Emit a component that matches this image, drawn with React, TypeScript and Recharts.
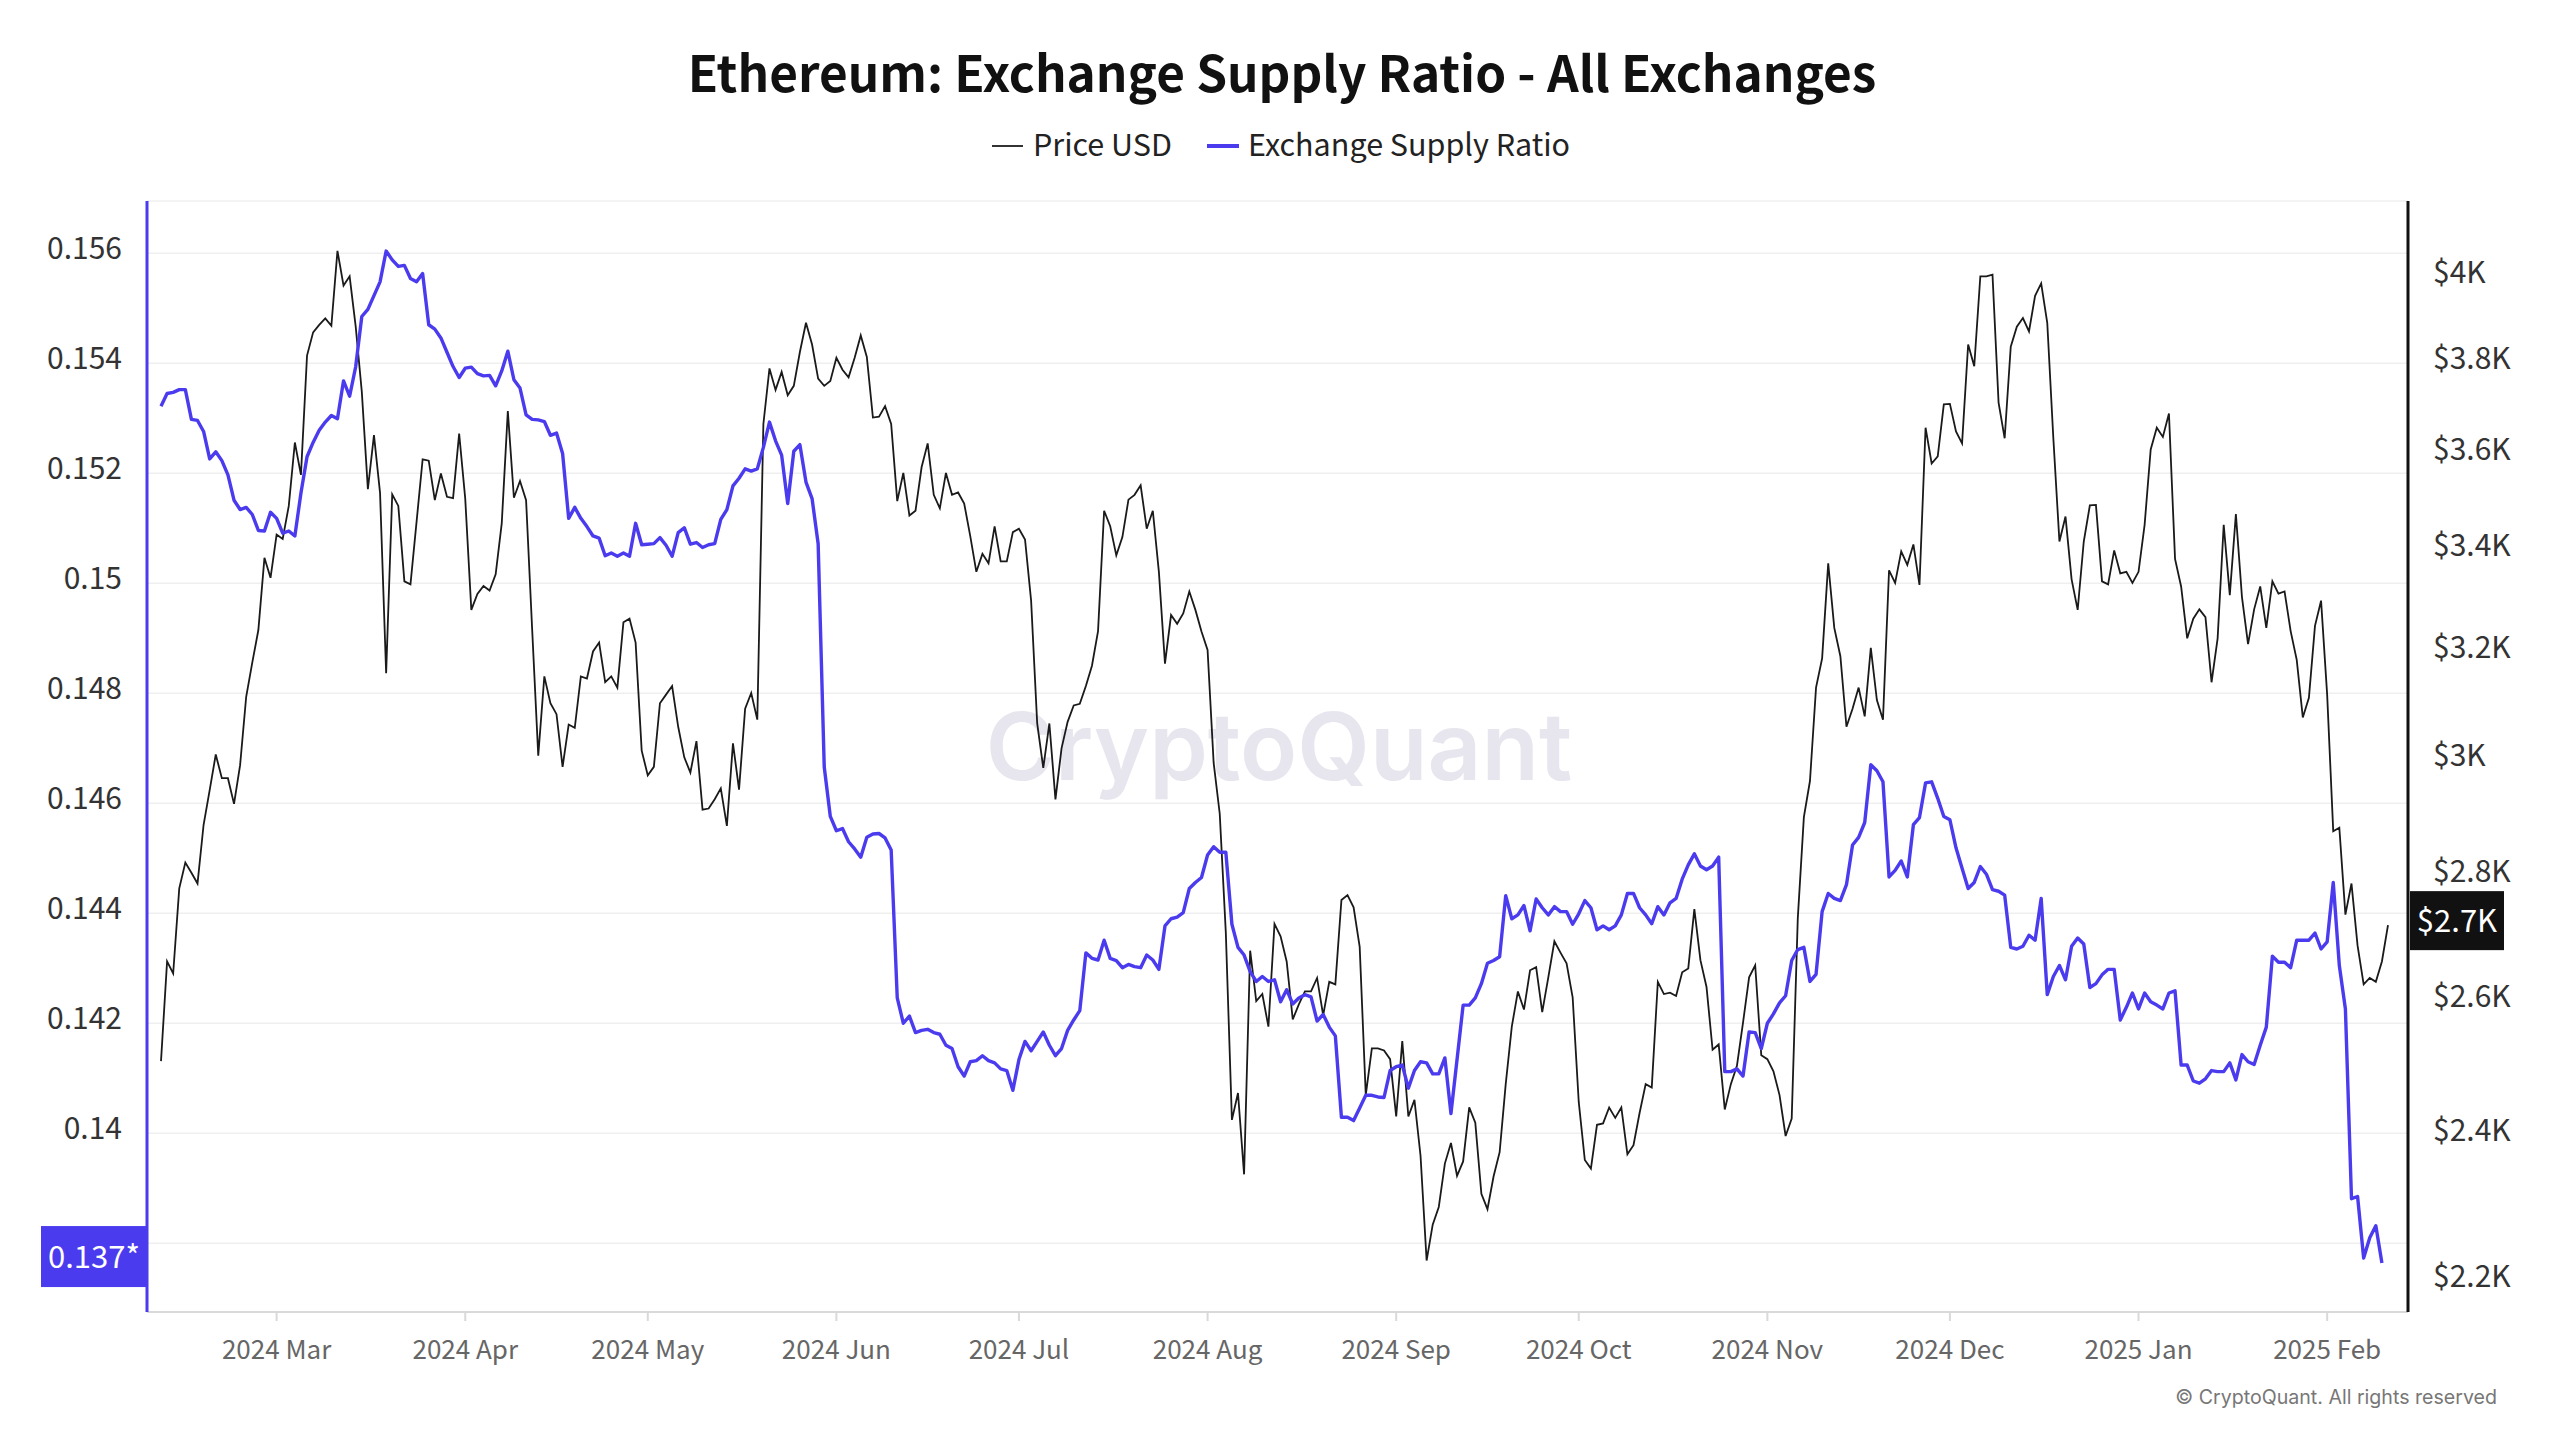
import React from "react";
import {
  LineChart,
  Line,
  XAxis,
  YAxis,
  CartesianGrid,
  ReferenceDot,
} from "recharts";

// daily series, first day below
const START_DATE = "2024-02-11";

const PRICE_USD = [
  2501, 2654, 2635, 2772, 2815, 2798, 2780, 2879, 2939, 3002,
  2960, 2960, 2915, 2983, 3107, 3171, 3233, 3375, 3335, 3422,
  3413, 3481, 3615, 3546, 3807, 3860, 3877, 3892, 3875, 4052,
  3969, 3991, 3873, 3726, 3516, 3631, 3508, 3151, 3505, 3481,
  3328, 3322, 3448, 3579, 3576, 3493, 3549, 3500, 3497, 3634,
  3496, 3272, 3303, 3319, 3310, 3342, 3445, 3683, 3498, 3533,
  3493, 3234, 3000, 3145, 3095, 3075, 2980, 3056, 3050, 3145,
  3141, 3192, 3209, 3134, 3145, 3124, 3248, 3255, 3209, 3009,
  2965, 2980, 3095, 3111, 3127, 3052, 2997, 2970, 3026, 2905,
  2907, 2923, 2942, 2877, 3022, 2940, 3085, 3114, 3065, 3655,
  3778, 3730, 3770, 3718, 3739, 3815, 3882, 3832, 3755, 3739,
  3750, 3802, 3775, 3758, 3802, 3853, 3804, 3669, 3671, 3694,
  3655, 3491, 3550, 3461, 3471, 3562, 3613, 3504, 3476, 3550,
  3504, 3509, 3486, 3419, 3347, 3383, 3364, 3439, 3368, 3368,
  3427, 3434, 3412, 3290, 3058, 2978, 3058, 2923, 3013, 3061,
  3091, 3094, 3127, 3165, 3231, 3471, 3439, 3380, 3417, 3494,
  3504, 3524, 3434, 3471, 3347, 3169, 3262, 3245, 3265, 3308,
  3272, 3230, 3195, 2987, 2898, 2700, 2415, 2454, 2338, 2671,
  2592, 2603, 2553, 2714, 2694, 2654, 2564, 2587, 2607, 2607,
  2628, 2570, 2622, 2618, 2753, 2761, 2741, 2677, 2451, 2520,
  2520, 2517, 2504, 2420, 2531, 2420, 2444, 2364, 2221, 2269,
  2293, 2353, 2382, 2336, 2356, 2433, 2411, 2311, 2290, 2335,
  2369, 2467, 2553, 2607, 2579, 2640, 2645, 2575, 2629, 2686,
  2668, 2651, 2598, 2441, 2358, 2346, 2408, 2410, 2433, 2418,
  2433, 2366, 2379, 2425, 2467, 2462, 2622, 2603, 2605, 2600,
  2637, 2643, 2738, 2656, 2614, 2518, 2526, 2430, 2467, 2494,
  2559, 2629, 2648, 2510, 2504, 2486, 2451, 2392, 2417, 2723,
  2892, 2955, 3124, 3179, 3364, 3237, 3183, 3052, 3085, 3124,
  3071, 3199, 3101, 3065, 3350, 3325, 3388, 3361, 3402, 3321,
  3647, 3570, 3585, 3698, 3699, 3639, 3613, 3832, 3783, 3991,
  3991, 3995, 3702, 3624, 3827, 3873, 3893, 3862, 3945, 3974,
  3882, 3624, 3408, 3459, 3332, 3272, 3408, 3482, 3483, 3328,
  3322, 3390, 3344, 3347, 3325, 3347, 3442, 3600, 3647, 3627,
  3678, 3373, 3318, 3217, 3255, 3273, 3258, 3134, 3217, 3442,
  3301, 3464, 3297, 3206, 3273, 3318, 3237, 3328, 3304, 3308,
  3231, 3176, 3069, 3105, 3241, 3290, 3111, 2868, 2874, 2729,
  2780, 2679, 2618, 2628, 2622, 2654, 2712,
];

const SUPPLY_RATIO = [
  0.15322, 0.15345, 0.15347, 0.15352, 0.15352, 0.15298, 0.15296, 0.15276, 0.15226, 0.15239,
  0.15223, 0.15197, 0.15151, 0.15134, 0.15138, 0.15125, 0.15096, 0.15095, 0.15129, 0.15118,
  0.15091, 0.15095, 0.15086, 0.15164, 0.1523, 0.15256, 0.15278, 0.15293, 0.15305, 0.15299,
  0.15368, 0.1534, 0.15394, 0.15485, 0.15498, 0.15523, 0.15548, 0.15604, 0.15588, 0.15576,
  0.15578, 0.15554, 0.15548, 0.15563, 0.1547, 0.15462, 0.15446, 0.1542, 0.15394, 0.15374,
  0.15391, 0.15393, 0.15381, 0.15377, 0.15378, 0.15359, 0.15386, 0.15422, 0.1537, 0.15355,
  0.15306, 0.15298, 0.15297, 0.15294, 0.15269, 0.15273, 0.15236, 0.15118, 0.15138, 0.15118,
  0.15103, 0.15086, 0.15082, 0.1505, 0.15055, 0.15049, 0.15055, 0.15049, 0.15109, 0.1507,
  0.15071, 0.15072, 0.15083, 0.15069, 0.15049, 0.15092, 0.15101, 0.15071, 0.15074, 0.15065,
  0.1507, 0.15072, 0.15116, 0.15134, 0.15177, 0.15191, 0.15208, 0.15204, 0.15208, 0.15247,
  0.15293, 0.15259, 0.15233, 0.15145, 0.1524, 0.15252, 0.15184, 0.15154, 0.15072, 0.14666,
  0.14576, 0.1455, 0.14554, 0.1453, 0.14517, 0.14502, 0.14538, 0.14544, 0.14545, 0.14537,
  0.14515, 0.14246, 0.142, 0.14213, 0.14183, 0.14187, 0.14189, 0.14183, 0.1418, 0.1416,
  0.14154, 0.14121, 0.14104, 0.1413, 0.14132, 0.14141, 0.14132, 0.14128, 0.14117, 0.14114,
  0.14078, 0.14134, 0.14167, 0.1415, 0.14167, 0.14184, 0.1416, 0.14141, 0.14154, 0.14187,
  0.14206, 0.14223, 0.14328, 0.14318, 0.14315, 0.14351, 0.14318, 0.14314, 0.14301, 0.14307,
  0.14303, 0.14301, 0.14324, 0.14315, 0.14298, 0.14377, 0.1439, 0.14393, 0.14401, 0.14445,
  0.14456, 0.14465, 0.14506, 0.14521, 0.14511, 0.14511, 0.1438, 0.14338, 0.14324, 0.14294,
  0.14276, 0.14285, 0.14276, 0.14279, 0.14239, 0.14261, 0.14235, 0.14246, 0.14252, 0.14248,
  0.14204, 0.14216, 0.14193, 0.14177, 0.14029, 0.14029, 0.14023, 0.14046, 0.14069, 0.14069,
  0.14066, 0.14065, 0.14114, 0.14121, 0.14124, 0.14082, 0.14114, 0.1413, 0.14128, 0.14108,
  0.14108, 0.14137, 0.14036, 0.14134, 0.14233, 0.14233, 0.14246, 0.14272, 0.14309, 0.14314,
  0.14321, 0.14432, 0.1439, 0.14397, 0.14414, 0.14368, 0.14426, 0.1441, 0.14397, 0.14412,
  0.14403, 0.14403, 0.1438, 0.14399, 0.14423, 0.1441, 0.1437, 0.14377, 0.1437, 0.14377,
  0.14397, 0.14436, 0.14436, 0.1441, 0.14397, 0.14381, 0.14412, 0.14397, 0.14419, 0.14427,
  0.14462, 0.14488, 0.14508, 0.14486, 0.14479, 0.14486, 0.14502, 0.14112, 0.14112, 0.14117,
  0.14104, 0.14184, 0.14183, 0.14154, 0.142, 0.14217, 0.14237, 0.1425, 0.14314, 0.14334,
  0.14338, 0.14276, 0.14289, 0.14403, 0.14436, 0.14427, 0.14423, 0.14452, 0.14524, 0.14538,
  0.14565, 0.1467, 0.14659, 0.14639, 0.14466, 0.14478, 0.14495, 0.14466, 0.14561, 0.14574,
  0.14637, 0.14639, 0.14609, 0.14576, 0.1457, 0.14519, 0.14482, 0.14445, 0.14456, 0.14485,
  0.14471, 0.14443, 0.1444, 0.14433, 0.14338, 0.14335, 0.1434, 0.1436, 0.14351, 0.14427,
  0.14252, 0.14285, 0.14305, 0.14279, 0.1434, 0.14355, 0.14344, 0.14265, 0.14272, 0.14288,
  0.14298, 0.14298, 0.14206, 0.14229, 0.14255, 0.14226, 0.14255, 0.14239, 0.14233, 0.14226,
  0.14255, 0.14259, 0.14124, 0.14124, 0.14095, 0.14091, 0.14099, 0.14114, 0.14112, 0.14112,
  0.14128, 0.14097, 0.14143, 0.1413, 0.14125, 0.1416, 0.14193, 0.14322, 0.14311, 0.14311,
  0.14301, 0.14351, 0.14351, 0.14351, 0.14364, 0.14335, 0.14348, 0.14456, 0.14305, 0.14226,
  0.13881, 0.13885, 0.13773, 0.1381, 0.13832, 0.13764,
];

const MONTH_STARTS = [
  "2024-03-01", "2024-04-01", "2024-05-01", "2024-06-01", "2024-07-01", "2024-08-01",
  "2024-09-01", "2024-10-01", "2024-11-01", "2024-12-01", "2025-01-01", "2025-02-01",
];
const MONTH_LABELS = [
  "2024 Mar", "2024 Apr", "2024 May", "2024 Jun", "2024 Jul", "2024 Aug",
  "2024 Sep", "2024 Oct", "2024 Nov", "2024 Dec", "2025 Jan", "2025 Feb",
];

const RATIO_TICKS = [0.138, 0.14, 0.142, 0.144, 0.146, 0.148, 0.15, 0.152, 0.154, 0.156];
const PRICE_TICKS = [2200, 2400, 2600, 2800, 3000, 3200, 3400, 3600, 3800, 4000];

const BLUE = "#4b3bef";
const FONT = '"Noto Sans CJK KR", "Noto Sans", sans-serif';
const DAY = 86400000;

const t0 = Date.parse(START_DATE + "T00:00:00Z");
const rows = PRICE_USD.map((price, i) => ({
  t: t0 + i * DAY,
  price,
  ratio: i < SUPPLY_RATIO.length ? SUPPLY_RATIO[i] : null,
}));
const monthTicks = MONTH_STARTS.map((d) => Date.parse(d + "T00:00:00Z"));

const lastRatioIdx = SUPPLY_RATIO.length - 1;
const lastPriceIdx = PRICE_USD.length - 1;

const fmtRatio = (v: number) => (v === 0.138 ? "" : String(+v.toFixed(3)));
const fmtPrice = (v: number) => `$${+(v / 1000).toFixed(1)}K`;
const fmtMonth = (v: number) => MONTH_LABELS[monthTicks.indexOf(v)] ?? "";

// left labels sit a few px above their grid lines in the original
const RatioTick = (props: any) => {
  const { x, y, payload } = props;
  return (
    <text
      x={x}
      y={y - 5}
      dy="0.36em"
      textAnchor="end"
      fill="#333"
      fontSize={30}
      fontFamily={FONT}
    >
      {fmtRatio(payload.value)}
    </text>
  );
};

const RatioBadge = (props: any) => {
  const { cy } = props;
  const v = Math.floor(SUPPLY_RATIO[lastRatioIdx] * 1000) / 1000;
  return (
    <g>
      <rect x={41} y={cy - 37} width={106} height={61} fill={BLUE} />
      <text
        x={94}
        y={cy - 6}
        dy="0.36em"
        textAnchor="middle"
        fill="#fff"
        fontSize={31}
        fontFamily={FONT}
      >
        {v}*
      </text>
    </g>
  );
};

const PriceBadge = (props: any) => {
  const { cy } = props;
  return (
    <g>
      <rect x={2410} y={cy - 34} width={94} height={59} fill="#111" />
      <text
        x={2457}
        y={cy - 4}
        dy="0.36em"
        textAnchor="middle"
        fill="#fff"
        fontSize={31}
        fontFamily={FONT}
      >
        {fmtPrice(PRICE_USD[lastPriceIdx])}
      </text>
    </g>
  );
};

export default function App() {
  return (
    <div
      style={{
        position: "absolute",
        left: 0,
        top: 0,
        width: 2560,
        height: 1440,
        background: "#fff",
        overflow: "hidden",
      }}
    >
      {/* watermark */}
      <svg width={2560} height={1440} style={{ position: "absolute", left: 0, top: 0 }}>
        <text
          x={1279}
          y={780}
          textAnchor="middle"
          fontSize={94}
          fontWeight={600}
          fontFamily="Inter, sans-serif"
          fill="#e7e6ee"
        >
          CryptoQuant
        </text>
      </svg>

      <div style={{ position: "absolute", left: 0, top: 0 }}>
        <LineChart
          width={2560}
          height={1440}
          data={rows}
          margin={{ top: 201, right: 0, bottom: 68, left: 0 }}
        >
          <CartesianGrid
            yAxisId="left"
            vertical={false}
            stroke="#efefef"
            strokeWidth={1.5}
          />
          <XAxis
            dataKey="t"
            type="number"
            domain={[rows[0].t, rows[lastPriceIdx].t]}
            ticks={monthTicks}
            tickFormatter={fmtMonth}
            padding={{ left: 14, right: 20 }}
            stroke="#d9d9d9"
            strokeWidth={2}
            tickSize={9}
            tickMargin={20}
            height={60}
            tick={{ fill: "#666", fontSize: 26, fontFamily: FONT }}
          />
          <YAxis
            yAxisId="left"
            orientation="left"
            width={147}
            domain={[0.13675, 0.15695]}
            allowDataOverflow
            ticks={RATIO_TICKS}
            axisLine={{ stroke: BLUE, strokeWidth: 3 }}
            tickLine={false}
            tickSize={0}
            tickMargin={25}
            tick={<RatioTick />}
          />
          <YAxis
            yAxisId="right"
            orientation="right"
            width={152}
            scale="log"
            type="number"
            domain={[2154, 4174]}
            allowDataOverflow
            ticks={PRICE_TICKS}
            tickFormatter={fmtPrice}
            axisLine={{ stroke: "#111", strokeWidth: 3 }}
            tickLine={false}
            tickSize={0}
            tickMargin={25}
            tick={{ fill: "#333", fontSize: 30, fontFamily: FONT }}
          />
          <Line
            yAxisId="right"
            dataKey="price"
            type="linear"
            stroke="#1a1a1a"
            strokeWidth={1.8}
            dot={false}
            isAnimationActive={false}
          />
          <Line
            yAxisId="left"
            dataKey="ratio"
            type="linear"
            stroke={BLUE}
            strokeWidth={3.4}
            strokeLinejoin="round"
            dot={false}
            isAnimationActive={false}
          />
          <ReferenceDot
            yAxisId="left"
            x={rows[lastRatioIdx].t}
            y={SUPPLY_RATIO[lastRatioIdx]}
            ifOverflow="visible"
            shape={RatioBadge}
          />
          <ReferenceDot
            yAxisId="right"
            x={rows[lastPriceIdx].t}
            y={PRICE_USD[lastPriceIdx]}
            ifOverflow="visible"
            shape={PriceBadge}
          />
        </LineChart>
      </div>

      {/* title, legend, footer */}
      <svg
        width={2560}
        height={1440}
        style={{ position: "absolute", left: 0, top: 0, pointerEvents: "none" }}
      >
        <text
          x={1282}
          y={92}
          textAnchor="middle"
          fontSize={49.5}
          fontWeight={700}
          fontFamily={FONT}
          fill="#111"
        >
          Ethereum: Exchange Supply Ratio - All Exchanges
        </text>
        <line x1={992} x2={1023} y1={146} y2={146} stroke="#333" strokeWidth={2} />
        <text x={1033} y={156} fontSize={30.5} fontFamily={FONT} fill="#222">
          Price USD
        </text>
        <line x1={1207} x2={1239} y1={146} y2={146} stroke={BLUE} strokeWidth={4} />
        <text x={1248} y={156} fontSize={30.5} fontFamily={FONT} fill="#222">
          Exchange Supply Ratio
        </text>
        <text
          x={2497}
          y={1404}
          textAnchor="end"
          fontSize={19.6}
          fontFamily="Inter, sans-serif"
          fill="#777"
        >
          © CryptoQuant. All rights reserved
        </text>
      </svg>
    </div>
  );
}
